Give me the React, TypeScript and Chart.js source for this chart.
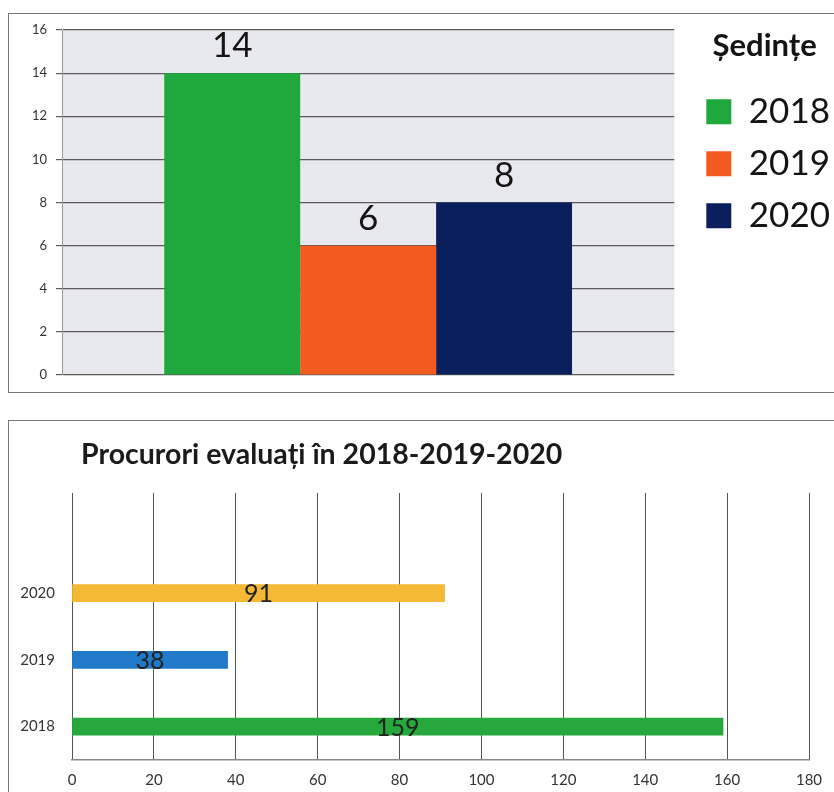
import React, { useEffect, useRef } from 'react';
import { Chart, registerables } from 'chart.js';

Chart.register(...registerables);

const FONT = "Lato, 'Open Sans', sans-serif";

// ---- Top chart: Ședințe ----
const sessionCategories = ['Ședințe'];
const sessionTitle = 'Ședințe';
const sessionYears = ['2018', '2019', '2020'];
const sessionValues = [14, 6, 8];
const sessionColors = ['#1fa83b', '#f25a1f', '#0b1f5c'];
const sessionTicks = [0, 2, 4, 6, 8, 10, 12, 14, 16];

// ---- Bottom chart: Procurori evaluați ----
const evalTitle = 'Procurori evaluați în 2018-2019-2020';
const evalYears = [2018, 2019, 2020];
const evalValues = [159, 38, 91];
const evalColors = ['#27a83c', '#2079c9', '#f5b935'];
const evalXTicks = [0, 20, 40, 60, 80, 100, 120, 140, 160, 180];

const plotBg = {
  id: 'plotBg',
  beforeDraw(chart: any) {
    const { ctx, chartArea: a } = chart;
    ctx.save();
    ctx.fillStyle = '#e8e8ef';
    ctx.fillRect(a.left, a.top, a.right - a.left, a.bottom - a.top);
    ctx.restore();
  },
};

const topLabels = {
  id: 'topLabels',
  afterDatasetsDraw(chart: any) {
    const ctx = chart.ctx;
    ctx.save();
    ctx.font = `35px ${FONT}`;
    ctx.fillStyle = '#141414';
    ctx.textAlign = 'center';
    ctx.textBaseline = 'alphabetic';
    chart.data.datasets.forEach((ds: any, i: number) => {
      const meta = chart.getDatasetMeta(i);
      meta.data.forEach((el: any, j: number) => {
        ctx.fillText(String(ds.data[j]), el.x, el.y - 16);
      });
    });
    ctx.restore();
  },
};

const leftTitle = {
  id: 'leftTitle',
  afterDraw(chart: any) {
    const ctx = chart.ctx;
    ctx.save();
    ctx.font = `bold 28.5px ${FONT}`;
    ctx.fillStyle = '#1a1a1a';
    ctx.textAlign = 'left';
    ctx.textBaseline = 'alphabetic';
    ctx.fillText(evalTitle, chart.chartArea.left + 9, chart.chartArea.top - 29);
    ctx.restore();
  },
};

const midLabels = {
  id: 'midLabels',
  afterDatasetsDraw(chart: any) {
    const ctx = chart.ctx;
    ctx.save();
    ctx.font = `25px ${FONT}`;
    ctx.fillStyle = '#222222';
    ctx.textAlign = 'center';
    ctx.textBaseline = 'middle';
    const meta = chart.getDatasetMeta(0);
    meta.data.forEach((el: any, j: number) => {
      ctx.fillText(String(evalValues[j]), (el.x + el.base) / 2, el.y + 1);
    });
    ctx.restore();
  },
};

function SessionsChart() {
  const ref = useRef<HTMLCanvasElement>(null);
  useEffect(() => {
    if (!ref.current) return;
    const chart = new Chart(ref.current, {
      type: 'bar',
      data: {
        labels: sessionCategories,
        datasets: sessionYears.map((y, i) => ({
          label: y,
          data: [sessionValues[i]],
          backgroundColor: sessionColors[i],
          borderColor: sessionColors[i],
          borderWidth: 0,
          categoryPercentage: 0.666,
          barPercentage: 1,
        })),
      },
      options: {
        animation: false,
        responsive: false,
        layout: { padding: { top: 17, bottom: 18, left: 0, right: 4 } },
        scales: {
          x: { display: false },
          y: {
            min: 0,
            max: 16,
            afterBuildTicks: (s: any) => {
              s.ticks = sessionTicks.map((v) => ({ value: v }));
            },
            ticks: { font: { family: FONT, size: 13 }, color: '#333', padding: 9 },
            grid: { color: '#5a5a5a', lineWidth: 1.2, tickLength: 6, tickColor: '#5a5a5a' },
            border: { display: true, color: '#9a9a9a', width: 1 },
            afterFit: (s: any) => {
              s.width = 54;
            },
          },
          spacer: {
            type: 'linear',
            axis: 'y',
            position: 'right',
            display: true,
            ticks: { display: false },
            grid: { display: false, drawTicks: false },
            border: { display: false },
            afterFit: (s: any) => {
              s.width = 15;
            },
          },
        } as any,
        plugins: {
          legend: {
            position: 'right',
            align: 'start',
            maxWidth: 220,
            title: {
              display: true,
              text: sessionTitle,
              font: { family: FONT, size: 31, weight: 'bold' },
              color: '#141414',
              padding: { top: 0, bottom: 10 },
              position: 'center',
            } as any,
            labels: {
              font: { family: FONT, size: 35 },
              color: '#141414',
              boxWidth: 25,
              boxHeight: 25,
              padding: 17,
            },
          } as any,
          tooltip: { enabled: false },
        },
      },
      plugins: [plotBg, topLabels],
    });
    return () => chart.destroy();
  }, []);
  return (
    <canvas
      ref={ref}
      width={836}
      height={380}
      style={{ position: 'absolute', left: 8, top: 13, width: 836, height: 380 }}
    />
  );
}

function EvalChart() {
  const ref = useRef<HTMLCanvasElement>(null);
  useEffect(() => {
    if (!ref.current) return;
    const chart = new Chart(ref.current, {
      type: 'bar',
      data: {
        datasets: [
          {
            data: evalYears.map((y, i) => ({ x: evalValues[i], y })),
            backgroundColor: evalColors,
            borderWidth: 0,
            barThickness: 17,
          } as any,
        ],
      },
      options: {
        indexAxis: 'y',
        animation: false,
        responsive: false,
        layout: { padding: { top: 73, right: 25, left: 0, bottom: 0 } },
        scales: {
          x: {
            type: 'linear',
            min: 0,
            max: 180,
            afterBuildTicks: (s: any) => {
              s.ticks = evalXTicks.map((v) => ({ value: v }));
            },
            ticks: { font: { family: FONT, size: 15 }, color: '#333', padding: 11 },
            grid: { color: '#555', lineWidth: 1, drawTicks: false },
            border: { display: true, color: '#888', width: 1.5 },
            afterFit: (s: any) => {
              s.height = 32;
            },
          },
          y: {
            type: 'linear',
            min: 2017.5,
            max: 2021.5,
            offset: false,
            afterBuildTicks: (s: any) => {
              s.ticks = evalYears.map((v) => ({ value: v }));
            },
            ticks: {
              font: { family: FONT, size: 15 },
              color: '#333',
              padding: 17,
              callback: (v: any) => String(v),
            },
            grid: { display: false, drawTicks: false, offset: false },
            border: { display: false },
            afterFit: (s: any) => {
              s.width = 64;
            },
          },
        },
        plugins: { legend: { display: false }, tooltip: { enabled: false } },
      },
      plugins: [leftTitle, midLabels],
    });
    return () => chart.destroy();
  }, []);
  return (
    <canvas
      ref={ref}
      width={826}
      height={372}
      style={{ position: 'absolute', left: 8, top: 420, width: 826, height: 372 }}
    />
  );
}

export default function App() {
  const frame: React.CSSProperties = {
    position: 'absolute',
    boxSizing: 'border-box',
    border: '1.5px solid #777',
    background: '#fff',
  };
  return (
    <div
      style={{
        position: 'fixed',
        left: 0,
        top: 0,
        width: 834,
        height: 792,
        overflow: 'hidden',
        background: '#fff',
      }}
    >
      <div style={{ ...frame, left: 8, top: 13, width: 1000, height: 380 }} />
      <div style={{ ...frame, left: 8, top: 420, width: 1000, height: 600 }} />
      <SessionsChart />
      <EvalChart />
    </div>
  );
}
